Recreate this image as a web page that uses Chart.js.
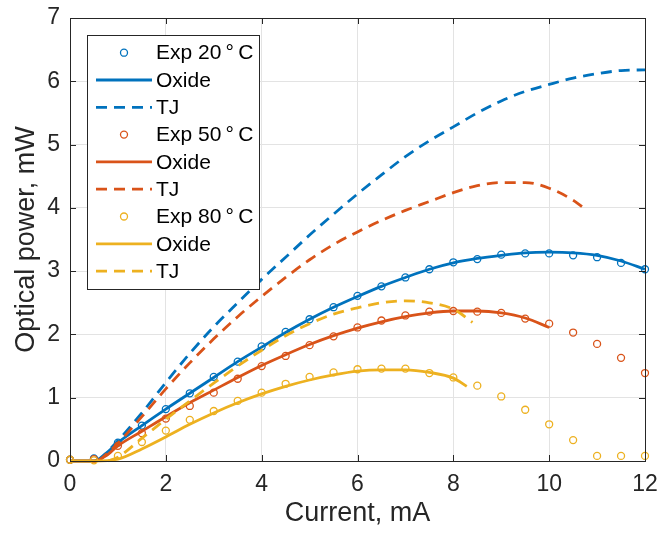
<!DOCTYPE html>
<html lang="en">
<head>
    <meta charset="UTF-8">
    <title>Optical power vs current</title>
    <style>
        body { margin: 0; background: #fff; }
    </style>
</head>
<body>

<canvas id="myChart" width="659" height="536"></canvas>

<script src="https://cdn.jsdelivr.net/npm/chart.js"></script>

<script>
    // measured points, every 0.5 mA
    const expCurrent = [0, 0.5, 1, 1.5, 2, 2.5, 3, 3.5, 4, 4.5, 5, 5.5, 6, 6.5, 7, 7.5, 8, 8.5, 9, 9.5, 10, 10.5, 11, 11.5, 12]
    const exp20 = [0.02, 0.04, 0.29, 0.56, 0.82, 1.07, 1.33, 1.57, 1.81, 2.04, 2.24, 2.43, 2.61, 2.76, 2.9, 3.03, 3.14, 3.19, 3.26, 3.28, 3.28, 3.25, 3.22, 3.13, 3.03]
    const exp50 = [0.02, 0.03, 0.24, 0.44, 0.67, 0.87, 1.08, 1.3, 1.5, 1.66, 1.83, 1.97, 2.11, 2.22, 2.3, 2.36, 2.37, 2.36, 2.34, 2.25, 2.17, 2.03, 1.85, 1.63, 1.39]
    const exp80 = [0.02, 0.01, 0.08, 0.3, 0.48, 0.65, 0.79, 0.95, 1.08, 1.22, 1.33, 1.4, 1.45, 1.46, 1.46, 1.39, 1.32, 1.19, 1.02, 0.81, 0.58, 0.33, 0.08, 0.08, 0.08]

    // oxide model
    const oxide20X = [0, 0.5, 0.75, 1, 1.5, 2, 2.5, 3, 3.5, 4, 4.5, 5, 5.5, 6, 6.5, 7, 7.5, 8, 8.5, 9, 9.5, 10, 10.5, 11, 11.5, 12]
    const oxide20Y = [0, 0, 0.12, 0.29, 0.56, 0.82, 1.07, 1.32, 1.57, 1.8, 2.03, 2.24, 2.43, 2.6, 2.76, 2.9, 3.03, 3.13, 3.2, 3.25, 3.29, 3.3, 3.29, 3.25, 3.16, 3.03]
    const oxide50X = [0, 0.5, 0.75, 1, 1.5, 2, 2.5, 3, 3.5, 4, 4.5, 5, 5.5, 6, 6.5, 7, 7.5, 8, 8.5, 9, 9.5, 10]
    const oxide50Y = [0, 0, 0.08, 0.24, 0.47, 0.7, 0.92, 1.12, 1.32, 1.51, 1.68, 1.84, 1.98, 2.1, 2.2, 2.28, 2.34, 2.37, 2.37, 2.34, 2.26, 2.11]
    const oxide80X = [0, 0.5, 1, 1.5, 2, 2.5, 3, 3.5, 4, 4.5, 5, 5.5, 6, 6.5, 7, 7.5, 8, 8.28]
    const oxide80Y = [0, 0, 0.03, 0.19, 0.38, 0.58, 0.76, 0.92, 1.06, 1.18, 1.28, 1.36, 1.42, 1.44, 1.44, 1.4, 1.31, 1.18]

    // tunnel junction model
    const tj20X = [0.6, 1, 1.5, 2, 2.5, 3, 3.5, 4, 4.5, 5, 5.5, 6, 6.5, 7, 7.5, 8, 8.5, 9, 9.5, 10, 10.5, 11, 11.5, 12]
    const tj20Y = [0, 0.32, 0.76, 1.24, 1.7, 2.12, 2.5, 2.87, 3.22, 3.57, 3.9, 4.22, 4.52, 4.81, 5.06, 5.28, 5.5, 5.69, 5.84, 5.95, 6.05, 6.12, 6.17, 6.18]
    const tj50X = [0.6, 1, 1.5, 2, 2.5, 3, 3.5, 4, 4.5, 5, 5.5, 6, 6.5, 7, 7.5, 8, 8.5, 9, 9.5, 10, 10.5, 10.8]
    const tj50Y = [0, 0.28, 0.7, 1.14, 1.55, 1.93, 2.28, 2.6, 2.9, 3.18, 3.42, 3.62, 3.8, 3.96, 4.1, 4.24, 4.35, 4.4, 4.4, 4.31, 4.12, 3.95]
    const tj80X = [0.8, 1, 1.5, 2, 2.5, 3, 3.5, 4, 4.5, 5, 5.5, 6, 6.5, 7, 7.5, 8, 8.4]
    const tj80Y = [0, 0.06, 0.36, 0.66, 0.95, 1.23, 1.5, 1.75, 1.98, 2.17, 2.32, 2.42, 2.5, 2.53, 2.5, 2.4, 2.19]

    const xTicks = [0, 2, 4, 6, 8, 10, 12]
    const yTicks = [0, 1, 2, 3, 4, 5, 6, 7]

    const blue = '#0072BD'
    const orange = '#D95319'
    const yellow = '#EDB120'
    const axisColor = '#262626'
    const fontFamily = '"Liberation Sans", Arial, Helvetica, sans-serif'

    function pts(xs, ys) {
        return xs.map((x, i) => ({x: x, y: ys[i]}))
    }

    function expSet(label, ys, color) {
        return {
            label: label, data: pts(expCurrent, ys), showLine: false,
            borderColor: color, backgroundColor: 'rgba(0,0,0,0)',
            pointRadius: 3.5, pointBorderWidth: 1.3, pointStyle: 'circle', clip: false
        }
    }
    function lineSet(label, xs, ys, color, dashed) {
        return {
            label: label, data: pts(xs, ys), borderColor: color, borderWidth: 2.8,
            borderDash: dashed ? [11, 7] : [], pointRadius: 0,
            cubicInterpolationMode: 'monotone', fill: false, clip: false
        }
    }

    const datasets = [
        expSet('Exp 20\u2009°\u2009C', exp20, blue),
        lineSet('Oxide', oxide20X, oxide20Y, blue, false),
        lineSet('TJ', tj20X, tj20Y, blue, true),
        expSet('Exp 50\u2009°\u2009C', exp50, orange),
        lineSet('Oxide', oxide50X, oxide50Y, orange, false),
        lineSet('TJ', tj50X, tj50Y, orange, true),
        expSet('Exp 80\u2009°\u2009C', exp80, yellow),
        lineSet('Oxide', oxide80X, oxide80Y, yellow, false),
        lineSet('TJ', tj80X, tj80Y, yellow, true)
    ]
    // later series on top, like the original
    datasets.forEach((d, i) => d.order = datasets.length - i)

    // box, inward ticks and the legend
    const boxPlugin = {
        id: 'boxPlugin',
        afterDraw(chart) {
            const c = chart.ctx
            const a = chart.chartArea
            const xs = chart.scales.x
            const ys = chart.scales.y
            c.save()
            c.strokeStyle = axisColor
            c.lineWidth = 1
            c.strokeRect(a.left + 0.5, a.top + 0.5, a.right - a.left, a.bottom - a.top)
            c.beginPath()
            xTicks.forEach(v => {
                const p = Math.round(xs.getPixelForValue(v)) + 0.5
                c.moveTo(p, a.bottom); c.lineTo(p, a.bottom - 6)
                c.moveTo(p, a.top); c.lineTo(p, a.top + 6)
            })
            yTicks.forEach(v => {
                const p = Math.round(ys.getPixelForValue(v)) + 0.5
                c.moveTo(a.left, p); c.lineTo(a.left + 6, p)
                c.moveTo(a.right, p); c.lineTo(a.right - 6, p)
            })
            c.stroke()

            // legend
            const lx = 87, ly = 35, lw = 172, lh = 254, row = 27.3
            c.fillStyle = '#fff'
            c.fillRect(lx, ly, lw, lh)
            c.strokeStyle = axisColor
            c.strokeRect(lx + 0.5, ly + 0.5, lw, lh)
            c.font = '21px ' + fontFamily
            c.textBaseline = 'middle'
            chart.data.datasets.forEach((d, i) => {
                const cy = ly + 17.7 + i * row
                c.strokeStyle = d.borderColor
                if (d.showLine === false) {
                    c.lineWidth = 1.3
                    c.setLineDash([])
                    c.beginPath()
                    c.arc(124, cy, 3.5, 0, Math.PI * 2)
                    c.stroke()
                } else {
                    c.lineWidth = 2.8
                    c.setLineDash(d.borderDash)
                    c.beginPath()
                    c.moveTo(96, cy); c.lineTo(152, cy)
                    c.stroke()
                }
                c.setLineDash([])
                c.fillStyle = '#000'
                c.fillText(d.label, 156, cy + 1)
            })
            c.restore()
        }
    }

    new Chart(document.getElementById('myChart'), {
        type: 'line',
        data: { datasets: datasets },
        plugins: [boxPlugin],
        options: {
            responsive: false,
            devicePixelRatio: 1,
            animation: false,
            layout: { padding: { top: 18, right: 14, left: 0, bottom: 0 } },
            plugins: { legend: { display: false }, tooltip: { enabled: false } },
            scales: {
                x: {
                    type: 'linear', min: 0, max: 12,
                    afterBuildTicks: s => { s.ticks = xTicks.map(v => ({value: v})) },
                    afterFit: s => { s.height = 75; s.paddingLeft = 0; s.paddingRight = 0 },
                    ticks: { color: axisColor, font: { size: 23, family: fontFamily }, padding: 10, maxRotation: 0 },
                    grid: { color: '#e3e3e3', drawTicks: false },
                    border: { display: false },
                    title: { display: true, text: 'Current, mA', color: axisColor, font: { size: 27, family: fontFamily }, padding: { top: 0, bottom: 6 } }
                },
                y: {
                    type: 'linear', min: 0, max: 7,
                    afterBuildTicks: s => { s.ticks = yTicks.map(v => ({value: v})) },
                    afterFit: s => { s.width = 70; s.paddingTop = 0; s.paddingBottom = 0 },
                    ticks: { color: axisColor, font: { size: 23, family: fontFamily }, padding: 10 },
                    grid: { color: '#e3e3e3', drawTicks: false },
                    border: { display: false },
                    title: { display: true, text: 'Optical power, mW', color: axisColor, font: { size: 27, family: fontFamily }, padding: { top: 10, bottom: 10 } }
                }
            }
        }
    });
</script>
</body>
</html>
